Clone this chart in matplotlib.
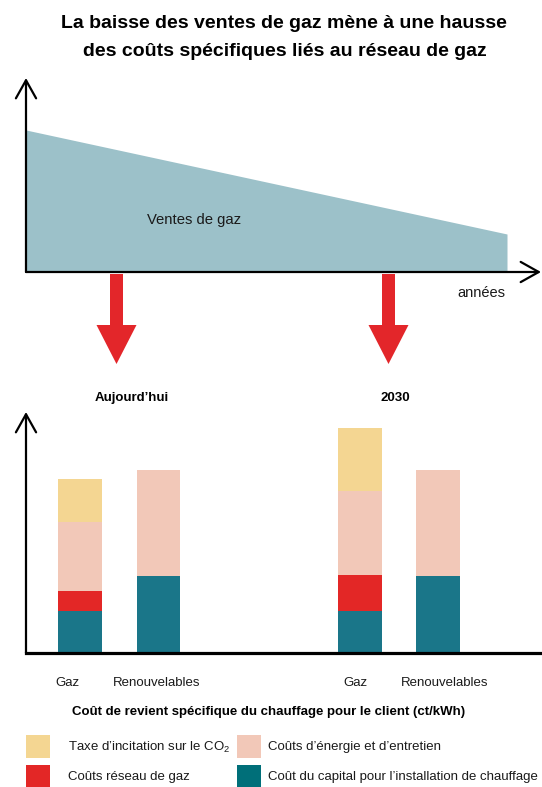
import matplotlib
matplotlib.use("Agg")
import matplotlib.pyplot as plt
from matplotlib.patches import Polygon, Rectangle

plt.rcParams['font.family'] = ['Liberation Sans', 'DejaVu Sans']
plt.rcParams['mathtext.fontset'] = 'custom'
plt.rcParams['mathtext.rm'] = 'Liberation Sans'

# --- data ---
annees = [0, 1]
ventes_gaz = [142, 38]

categories = ['Gaz', 'Renouvelables', 'Gaz', 'Renouvelables']
positions = [0, 1, 3.57, 4.56]
cout_capital = [4.2, 7.7, 4.2, 7.7]
couts_reseau = [2.0, 0.0, 3.6, 0.0]
couts_energie = [6.9, 10.6, 8.4, 10.6]
taxe_co2 = [4.3, 0.0, 6.3, 0.0]

periodes = ["Aujourd\u2019hui", "2030"]

legend_labels = ["Taxe d\u2019incitation sur le CO$_\\mathregular{2}$",
                 "Co\u00fbts d\u2019\u00e9nergie et d\u2019entretien",
                 "Co\u00fbts r\u00e9seau de gaz",
                 "Co\u00fbt du capital pour l\u2019installation de chauffage"]

c_yellow = '#F4D692'
c_peach = '#F2C8B8'
c_red = '#E32726'
c_teal = '#1A7689'
c_teal_leg = '#006F79'
c_fill = '#9CC1C9'

W, H = 542, 787
fig = plt.figure(figsize=(W / 100, H / 100), dpi=100)


def fx(x):
    return x / W


def fy(y):
    return 1 - y / H


axis_arrow = dict(arrowstyle='->,head_length=0.5,head_width=0.28', lw=1.6,
                  color='black', mutation_scale=26, shrinkA=0, shrinkB=0)

# --- top: gas sales ---
ax1 = fig.add_axes([fx(26), fy(272), fx(541) - fx(26), fy(78) - fy(272)])
ax1.fill_between(annees, ventes_gaz, 0, color=c_fill, lw=0)
ax1.set_xlim(0, 515 / 481)
ax1.set_ylim(0, 194)
ax1.axis('off')
ax1.annotate('', xy=(0, 1), xytext=(0, 0), xycoords='axes fraction',
             arrowprops=axis_arrow)
ax1.annotate('', xy=(1, 0), xytext=(0, 0), xycoords='axes fraction',
             arrowprops=axis_arrow)
ax1.text(0.349, 52, 'Ventes de gaz', fontsize=10.7, ha='center',
         va='center', color='#1a1a1a')
fig.text(fx(481), fy(293), 'ann\u00e9es', fontsize=10.5, ha='center',
         va='center', color='#1a1a1a')

# --- red arrows ---
for xc in [116.5, 388.5]:
    pts = [(xc - 6.5, 274), (xc + 6.5, 274), (xc + 6.5, 325), (xc + 20, 325),
           (xc, 364), (xc - 20, 325), (xc - 6.5, 325)]
    fig.patches.append(Polygon([(fx(x), fy(y)) for x, y in pts], closed=True,
                               transform=fig.transFigure, color='#E3262A',
                               lw=0))

# --- bottom: stacked bars ---
ax2 = fig.add_axes([fx(26), fy(653), 1 - fx(26), fy(412) - fy(653)])
width = 0.56
bottom = [0] * len(positions)
for vals, col in [(cout_capital, c_teal), (couts_reseau, c_red),
                  (couts_energie, c_peach), (taxe_co2, c_yellow)]:
    ax2.bar(positions, vals, width, bottom=bottom, color=col, lw=0)
    bottom = [b + v for b, v in zip(bottom, vals)]
ax2.set_xlim(-54 / 78.5, (516 - 54) / 78.5)
ax2.set_ylim(0, 24.1)
for s in ['top', 'right', 'left']:
    ax2.spines[s].set_visible(False)
ax2.spines['bottom'].set_linewidth(2.3)
ax2.spines['bottom'].set_color('black')
ax2.set_yticks([])
# the "Gaz" labels sit a little left of their bars in the original
label_shift = [-0.16, -0.02, -0.06, 0.09]
ax2.set_xticks([p + d for p, d in zip(positions, label_shift)])
ax2.set_xticklabels(categories, fontsize=9.5, color='#1a1a1a')
ax2.tick_params(axis='x', length=0, pad=17)
ax2.annotate('', xy=(0, 1), xytext=(0, 0), xycoords='axes fraction',
             arrowprops=axis_arrow)

fig.text(fx(132), fy(398), periodes[0], fontsize=9.5, fontweight='bold',
         ha='center', va='center')
fig.text(fx(395), fy(398), periodes[1], fontsize=9.5, fontweight='bold',
         ha='center', va='center')

# --- titles ---
fig.text(fx(284), fy(23), 'La baisse des ventes de gaz m\u00e8ne \u00e0 une hausse',
         fontsize=14, fontweight='bold', ha='center', va='center')
fig.text(fx(285), fy(52), 'des co\u00fbts sp\u00e9cifiques li\u00e9s au r\u00e9seau de gaz',
         fontsize=14, fontweight='bold', ha='center', va='center')
fig.text(fx(268.5), fy(712),
         'Co\u00fbt de revient sp\u00e9cifique du chauffage pour le client (ct/kWh)',
         fontsize=9.5, fontweight='bold', ha='center', va='center')

# --- legend ---
leg_items = [(26, 735, c_yellow, 68, legend_labels[0]),
             (237, 735, c_peach, 268, legend_labels[1]),
             (26, 765, c_red, 68, legend_labels[2]),
             (237, 765, c_teal_leg, 268, legend_labels[3])]
for x0, y0, col, tx, lab in leg_items:
    fig.patches.append(Rectangle((fx(x0), fy(y0 + 23)), fx(24), 23 / H,
                                 transform=fig.transFigure, color=col, lw=0))
    fig.text(fx(tx), fy(y0 + 12), lab, fontsize=9.5, ha='left', va='center',
             color='#1a1a1a')

fig.savefig('out.png', dpi=100)
